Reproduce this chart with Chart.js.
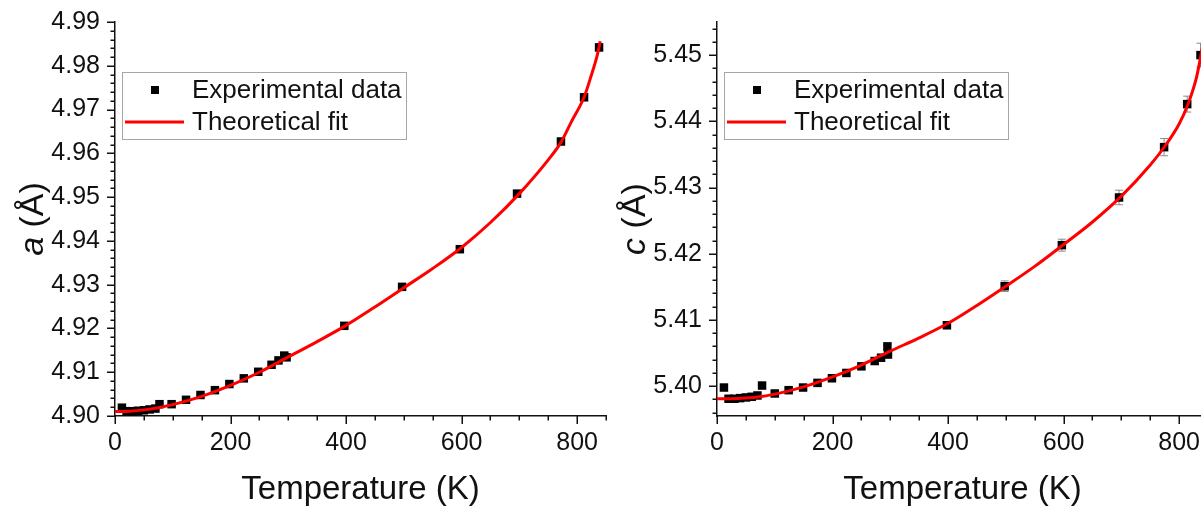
<!DOCTYPE html>
<html>
<head>
<meta charset="utf-8">
<script src="https://cdn.jsdelivr.net/npm/chart.js@4.4.1/dist/chart.umd.min.js"></script>
<style>
  html, body { margin: 0; padding: 0; background: #fff; overflow: hidden; width: 1201px; height: 508px; }
  .panel { position: absolute; top: 0; width: 612px; height: 508px; }
  #panelA { left: 0; }
  #panelC { left: 602px; }
</style>
</head>
<body>
<div class="panel" id="panelA"><canvas id="chartA" width="612" height="508"></canvas></div>
<div class="panel" id="panelC"><canvas id="chartC" width="612" height="508"></canvas></div>
<script>
// ---- lattice parameter a (left panel) ----
const tempA = [12, 20, 30, 40, 50, 60, 70, 77, 98, 123, 148, 173, 198, 223, 248, 271, 283, 293, 297, 397, 497, 597, 696, 772, 812, 838];
const latticeA = [4.9019, 4.9011, 4.9011, 4.9012, 4.9013, 4.9015, 4.9017, 4.9027, 4.9027, 4.9037, 4.9048, 4.9059, 4.9073, 4.9086, 4.9101, 4.9117, 4.9127, 4.9138, 4.9134, 4.9206, 4.9295, 4.9381, 4.9508, 4.9627, 4.9728, 4.9842];
const errA = [0.0002, 0.0002, 0.0002, 0.0002, 0.0002, 0.0002, 0.0002, 0.0002, 0.0002, 0.0002, 0.0002, 0.0002, 0.0002, 0.0002, 0.0002, 0.0002, 0.0002, 0.0002, 0.0002, 0.0003, 0.0003, 0.0004, 0.0004, 0.0005, 0.0005, 0.0008];
const fitTempA = [0, 25, 50, 75, 100, 150, 200, 250, 300, 350, 400, 450, 500, 550, 600, 650, 700, 750, 772, 790, 812, 825, 835, 840];
const fitA = [4.9010, 4.9011, 4.9014, 4.9019, 4.9026, 4.9045, 4.9070, 4.9100, 4.9135, 4.9170, 4.9207, 4.9249, 4.9293, 4.9337, 4.9385, 4.9442, 4.9508, 4.9585, 4.9625, 4.9672, 4.9728, 4.9780, 4.9825, 4.9856];

// ---- lattice parameter c (right panel) ----
const tempC = [12, 20, 30, 40, 50, 60, 70, 78, 100, 124, 149, 174, 199, 224, 250, 273, 284, 295, 296, 398, 498, 597, 696, 774, 814, 837];
const latticeC = [5.3998, 5.3981, 5.3981, 5.3982, 5.3983, 5.3984, 5.3986, 5.4001, 5.3989, 5.3994, 5.3998, 5.4005, 5.4012, 5.4020, 5.4030, 5.4038, 5.4043, 5.4060, 5.4048, 5.4092, 5.4151, 5.4213, 5.4285, 5.4361, 5.4426, 5.4500];
const errC = [0.0003, 0.0003, 0.0003, 0.0003, 0.0003, 0.0003, 0.0003, 0.0003, 0.0003, 0.0003, 0.0003, 0.0003, 0.0004, 0.0004, 0.0004, 0.0005, 0.0005, 0.0006, 0.0006, 0.0005, 0.0008, 0.0009, 0.0011, 0.0013, 0.0012, 0.0018];
const fitTempC = [0, 25, 50, 75, 100, 150, 200, 250, 300, 350, 400, 450, 500, 550, 600, 650, 700, 750, 775, 800, 815, 830, 840];
const fitC = [5.3981, 5.3981, 5.3982, 5.3984, 5.3988, 5.3999, 5.4014, 5.4032, 5.4053, 5.4073, 5.4095, 5.4122, 5.4151, 5.4181, 5.4214, 5.4248, 5.4287, 5.4334, 5.4362, 5.4396, 5.4425, 5.4466, 5.4510];

const legendLabels = ['Experimental data', 'Theoretical fit'];
const xTitle = 'Temperature (K)';

const FONT = '"Liberation Sans", Arial, sans-serif';
const INK = '#111';
Chart.defaults.font.family = FONT;
Chart.defaults.color = INK;

const toPoints = (xs, ys) => xs.map((x, i) => ({ x: x, y: ys[i] }));

// draws the minor/major ticks, error bars, axis titles and the boxed legend
const decor = {
  id: 'decor',
  beforeDatasetsDraw(chart) {
    const { ctx } = chart;
    const x = chart.scales.x, y = chart.scales.y;
    const ds = chart.data.datasets[1];
    ctx.save();
    ctx.strokeStyle = '#8a8a8a';
    ctx.lineWidth = 1;
    ds.data.forEach((p, i) => {
      const e = ds.errors[i];
      const px = x.getPixelForValue(p.x);
      const top = y.getPixelForValue(p.y + e), bot = y.getPixelForValue(p.y - e);
      ctx.beginPath();
      ctx.moveTo(px, top); ctx.lineTo(px, bot);
      ctx.moveTo(px - 4, top); ctx.lineTo(px + 4, top);
      ctx.moveTo(px - 4, bot); ctx.lineTo(px + 4, bot);
      ctx.stroke();
    });
    ctx.restore();
  },
  afterDraw(chart, args, opts) {
    const { ctx, chartArea: ca } = chart;
    const x = chart.scales.x, y = chart.scales.y;
    ctx.save();
    ctx.strokeStyle = INK;
    ctx.lineWidth = 1.5;
    // x ticks (outward)
    for (let k = 0; k * 50 <= x.max + 1e-9; k++) {
      const px = Math.round(x.getPixelForValue(k * 50)) + 0.25;
      const len = k % 4 === 0 ? 8 : 4.5;
      ctx.beginPath();
      ctx.moveTo(px, ca.bottom); ctx.lineTo(px, ca.bottom + len);
      ctx.stroke();
    }
    // y ticks (outward)
    const step = 0.002;
    for (let k = Math.ceil(y.min / step - 1e-6); k * step <= y.max + 1e-9; k++) {
      const py = Math.round(y.getPixelForValue(k * step)) + 0.25;
      const len = k % 5 === 0 ? 8 : 4.5;
      ctx.beginPath();
      ctx.moveTo(ca.left, py); ctx.lineTo(ca.left - len, py);
      ctx.stroke();
    }

    // axis titles
    ctx.fillStyle = INK;
    ctx.font = '33px ' + FONT;
    ctx.textAlign = 'center';
    ctx.textBaseline = 'middle';
    ctx.fillText(xTitle, (ca.left + ca.right) / 2, 490);

    ctx.save();
    ctx.translate(43, (ca.top + ca.bottom) / 2);
    ctx.rotate(-Math.PI / 2);
    ctx.textBaseline = 'alphabetic';
    ctx.textAlign = 'left';
    const italic = 'italic 34px ' + FONT, upright = '34px ' + FONT;
    ctx.font = italic;
    const w1 = ctx.measureText(opts.symbol).width;
    ctx.font = upright;
    const rest = ' (\u00C5)';
    const w2 = ctx.measureText(rest).width;
    const start = -(w1 + w2) / 2;
    ctx.font = italic;
    ctx.fillText(opts.symbol, start, 0);
    ctx.font = upright;
    ctx.fillText(rest, start + w1, 0);
    ctx.restore();

    // legend box
    const lx = ca.left + 7, ly = 72;
    ctx.strokeStyle = '#a6a6a6';
    ctx.lineWidth = 1;
    ctx.strokeRect(lx + 0.5, ly + 0.5, 284, 67);
    ctx.fillStyle = '#000';
    ctx.fillRect(lx + 29, ly + 14, 8, 8);
    ctx.strokeStyle = 'rgb(255, 0, 0)';
    ctx.lineWidth = 3;
    ctx.beginPath();
    ctx.moveTo(lx + 3, ly + 50); ctx.lineTo(lx + 62, ly + 50);
    ctx.stroke();
    ctx.fillStyle = INK;
    ctx.font = '26px ' + FONT;
    ctx.textAlign = 'left';
    ctx.textBaseline = 'middle';
    ctx.fillText(legendLabels[0], lx + 70, ly + 19);
    ctx.fillText(legendLabels[1], lx + 70, ly + 51);
    ctx.restore();
  }
};

function makeChart(id, symbol, temps, values, errors, fitT, fitV, yMin, yMax) {
  return new Chart(document.getElementById(id), {
    type: 'scatter',
    data: {
      datasets: [
        {
          // fit line, drawn on top of the markers
          type: 'line',
          data: toPoints(fitT, fitV),
          borderColor: 'rgb(255, 0, 0)',
          borderWidth: 3,
          pointRadius: 0,
          cubicInterpolationMode: 'monotone',
          fill: false,
        },
        {
          data: toPoints(temps, values),
          errors: errors,
          pointStyle: 'rect',
          pointRadius: 6,
          backgroundColor: '#000',
          borderColor: '#000',
          borderWidth: 0,
        },
      ],
    },
    options: {
      responsive: false,
      animation: false,
      events: [],
      layout: { padding: { left: 0, top: 22, right: 6, bottom: 0 } },
      scales: {
        x: {
          type: 'linear',
          min: 0,
          max: 850,
          afterFit: (s) => { s.height = 92; },
          border: { display: true, color: INK, width: 1.5 },
          grid: { display: true, drawOnChartArea: false, drawTicks: true, tickLength: 8, tickColor: 'rgba(0,0,0,0)' },
          ticks: {
            stepSize: 200,
            includeBounds: false,
            autoSkip: false,
            maxRotation: 0,
            padding: 4,
            color: INK,
            font: { size: 25 },
            callback: (v) => (v % 200 === 0 ? String(v) : ''),
          },
        },
        y: {
          type: 'linear',
          min: yMin,
          max: yMax,
          afterFit: (s) => { s.width = 115; },
          border: { display: true, color: INK, width: 1.5 },
          grid: { display: true, drawOnChartArea: false, drawTicks: true, tickLength: 8, tickColor: 'rgba(0,0,0,0)' },
          ticks: {
            stepSize: 0.01,
            includeBounds: false,
            autoSkip: false,
            padding: 7,
            color: INK,
            font: { size: 25 },
            callback: (v) => {
              const c = v * 100;
              return Math.abs(c - Math.round(c)) < 1e-6 ? v.toFixed(2) : '';
            },
          },
        },
      },
      plugins: {
        legend: { display: false },
        tooltip: { enabled: false },
        decor: { symbol: symbol },
      },
    },
    plugins: [decor],
  });
}

makeChart('chartA', 'a', tempA, latticeA, errA, fitTempA, fitA, 4.90, 4.99);
makeChart('chartC', 'c', tempC, latticeC, errC, fitTempC, fitC, 5.3955, 5.4550);
</script>
</body>
</html>
